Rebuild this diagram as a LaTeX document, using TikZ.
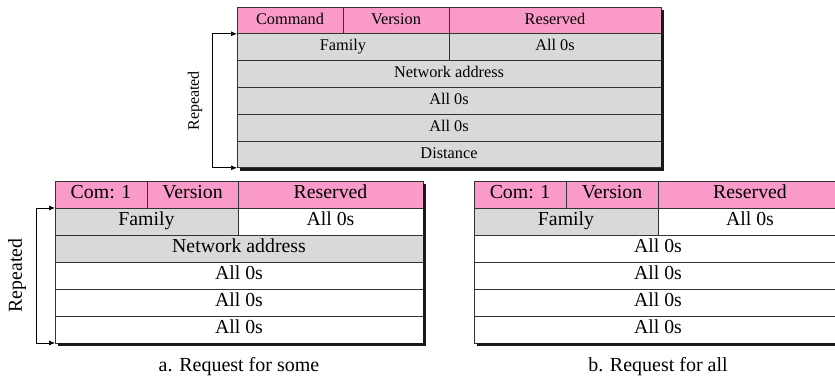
\documentclass[tikz,border=0pt]{standalone}
\usepackage{fontspec}
\setmainfont{Liberation Serif}
\usetikzlibrary{arrows.meta, positioning, calc}
\tikzset{>={Latex[width=5pt,length=6pt]}}
\definecolor{hdrpink}{RGB}{249,154,201}
\definecolor{rowgray}{RGB}{217,217,217}

\begin{document}
\begin{tikzpicture}[x=1pt, y=-1pt,
      cell/.style = {draw=black!80, line width=0.8pt, fill=white, inner sep=0pt, outer sep=0pt,
                     anchor=north west, text height=0.84em, text depth=0.1em},
      small/.style = {cell, minimum height=26.8pt, font=\fontsize{16.3}{19}\selectfont},
      big/.style = {cell, minimum height=27pt, font=\fontsize{19.8}{22}\selectfont},
      hdr/.style = {fill=hdrpink},
      gry/.style = {fill=rowgray},
      dropline/.style = {line width=3pt, black!90},
      rep/.style = {<->, line width=0.7pt},
      capt/.style = {inner sep=2pt, font=\fontsize{20}{24}\selectfont}
    ]
    \useasboundingbox[fill=white] (0,0) rectangle (835,381);
    \clip (0,0) rectangle (835,381);

    % top: request/response format
    \node[small, hdr, minimum width=106] (tcmd) at (237,7) {Command};
    \node[small, hdr, minimum width=106, right=0pt of tcmd] (tver) {Version};
    \node[small, hdr, minimum width=212, right=0pt of tver] (tres) {Reserved};
    \node[small, gry, minimum width=212] (tfam) at (tcmd.south west) {Family};
    \node[small, gry, minimum width=212] (tzer) at (tres.south west) {All 0s};
    \node[small, gry, minimum width=424] (tnet) at (tfam.south west) {Network address};
    \node[small, gry, minimum width=424] (tz1) at (tnet.south west) {All 0s};
    \node[small, gry, minimum width=424] (tz2) at (tz1.south west) {All 0s};
    \node[small, gry, minimum width=424] (tdist) at (tz2.south west) {Distance};
    \draw[dropline] ([shift={(1.5,3)}]tres.north east) |- ([shift={(3,1.5)}]tdist.south west);
    \draw[rep] (tfam.north west) -- ++(-25,0) |- (tdist.south west);
    \node[rotate=90, font=\fontsize{16}{18}\selectfont] (trep)
      at ($(tfam.north west)!0.5!(tdist.south west) + (-42,0)$) {Repeated};

    % a. request for some
    \node[big, hdr, minimum width=92] (acmd) at (55,181) {Com: 1};
    \node[big, hdr, minimum width=91, right=0pt of acmd] (aver) {Version};
    \node[big, hdr, minimum width=185, right=0pt of aver] (ares) {Reserved};
    \node[big, gry, minimum width=183] (afam) at (acmd.south west) {Family};
    \node[big, minimum width=185] (azer) at (ares.south west) {All 0s};
    \node[big, gry, minimum width=368] (anet) at (afam.south west) {Network address};
    \node[big, minimum width=368] (az1) at (anet.south west) {All 0s};
    \node[big, minimum width=368] (az2) at (az1.south west) {All 0s};
    \node[big, minimum width=368] (az3) at (az2.south west) {All 0s};
    \draw[dropline] ([shift={(1.5,3)}]ares.north east) |- ([shift={(3,1.5)}]az3.south west);
    \draw[rep] (afam.north west) -- ++(-19,0) |- (az3.south west);
    \node[rotate=90, font=\fontsize{19.8}{22}\selectfont] (arep)
      at ($(afam.north west)!0.5!(az3.south west) + (-38,0)$) {Repeated};
    \node[capt, below=12pt of az3] (capa) {a. Request for some};

    % b. request for all
    \node[big, hdr, minimum width=92] (bcmd) at (474,181) {Com: 1};
    \node[big, hdr, minimum width=92, right=0pt of bcmd] (bver) {Version};
    \node[big, hdr, minimum width=184, right=0pt of bver] (bres) {Reserved};
    \node[big, gry, minimum width=184] (bfam) at (bcmd.south west) {Family};
    \node[big, minimum width=184] (bzer) at (bres.south west) {All 0s};
    \node[big, minimum width=368] (bz1) at (bfam.south west) {All 0s};
    \node[big, minimum width=368] (bz2) at (bz1.south west) {All 0s};
    \node[big, minimum width=368] (bz3) at (bz2.south west) {All 0s};
    \node[big, minimum width=368] (bz4) at (bz3.south west) {All 0s};
    \draw[dropline] ([shift={(1.5,3)}]bres.north east) |- ([shift={(3,1.5)}]bz4.south west);
    \node[capt, below=12pt of bz4] (capb) {b. Request for all};

\end{tikzpicture}
\end{document}
